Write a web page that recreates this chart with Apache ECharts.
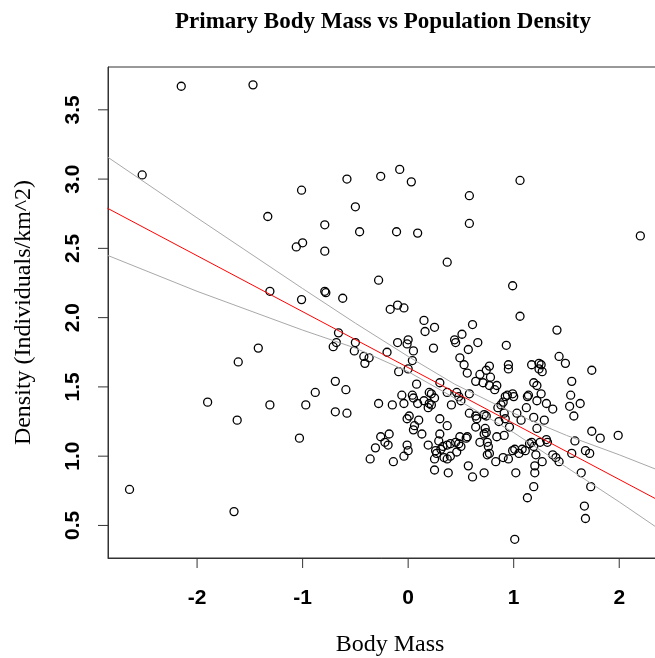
<!DOCTYPE html>
<html>
<head>
<meta charset="utf-8">
<script src="https://cdn.jsdelivr.net/npm/echarts@6/dist/echarts.min.js"></script>
<style>
  html, body { margin: 0; padding: 0; background: #fff; }
  #chart { width: 655px; height: 658px; }
</style>
</head>
<body>
<div id="chart"></div>
<script>
// tick positions
const xTicks = [-2, -1, 0, 1, 2];
const yTicks = [0.5, 1, 1.5, 2, 2.5, 3, 3.5];

// observations (body mass, density)
const bodyMass = [
  -2.15, -1.47, -2.52, -0.58, -1.01, -0.50, -0.26, -1.33, -0.79, -0.46,
  -1.00, -1.06, -0.79, -0.08, 0.03, 1.06, 0.58, 0.58, -0.11, 0.09,
  2.20, -0.28, -1.31, -0.79, -0.78, -1.01, -0.62, -0.66, -0.68, -0.71,
  -0.50, -0.51, -0.42, -0.37, -0.41, -1.42, -1.61, -0.69, -0.59, -0.88,
  -1.90, -1.31, -0.97, -0.69, -0.58, -0.28, -1.62, -1.03, -0.26, -0.31,
  -0.36, -2.64, -1.65, 0.37, 0.99, -0.17, -0.10, -0.04, 1.06, 0.15,
  0.16, 0.25, 0.61, 1.41, 0.51, 0.44, 0.45, 0.66, -0.10, -0.01,
  0.00, 0.05, 0.24, 0.57, 0.93, -0.20, 0.04, 0.49, 1.43, 1.49,
  1.74, 0.53, 0.56, 0.95, 0.95, 1.17, 1.24, 1.26, 1.24, 1.27,
  -0.09, 0.00, 0.77, 0.74, 0.68, 0.78, 0.64, 0.71, 0.77, 0.84,
  0.82, 0.08, 0.30, 0.37, 0.46, 0.58, 1.19, 1.22, 1.55, 1.26,
  1.54, -0.15, -0.06, -0.04, 0.04, 0.05, 0.09, 0.20, 0.22, 0.15,
  0.20, 0.19, 0.22, 0.25, 0.41, 0.48, 0.50, 0.92, 0.94, 0.99,
  1.00, 1.13, 1.14, 0.85, 0.88, 0.90, 1.03, 1.12, 1.22, 1.31,
  1.37, 1.53, 1.63, 1.57, 0.58, 0.64, 0.65, 0.72, 0.74, 0.01,
  -0.01, 0.10, 0.30, 1.19, 1.29, 1.07, 0.91, 0.92, 0.86, 0.96,
  1.22, 0.64, 0.73, 0.74, 0.72, 0.37, 0.06, 0.05, 0.13, 0.30,
  -0.18, -0.22, -0.19, -0.14, -0.04, -0.01, 0.00, 0.19, 0.29, 0.31,
  0.33, 0.37, 0.40, 0.26, 0.27, 0.45, 0.48, 0.49, 0.50, 0.55,
  0.56, 0.46, 0.34, 0.37, 0.40, 0.25, 0.25, 0.38, 0.57, 0.61,
  0.72, 0.68, 0.75, 0.76, 0.77, 0.75, 0.83, 0.84, 0.90, 0.95,
  0.99, 1.05, 1.08, 1.11, 1.15, 1.17, 1.19, 1.21, 1.20, 1.20,
  1.27, 1.25, 1.31, 1.32, 1.37, 1.40, 1.43, 1.02, 1.19, 1.13,
  1.55, 1.58, 1.68, 1.72, 1.74, 1.82, 1.99, 1.64, 1.73, 1.67,
  1.68, 1.01, 0.91, 1.01
];
const density = [
  3.67, 3.68, 3.03, 3.00, 2.92, 2.80, 3.02, 2.73, 2.67, 2.62,
  2.54, 2.51, 2.48, 3.07, 2.98, 2.99, 2.88, 2.68, 2.62, 2.61,
  2.59, 2.27, 2.19, 2.19, 2.18, 2.13, 2.14, 1.89, 1.82, 1.79,
  1.82, 1.76, 1.72, 1.71, 1.67, 1.78, 1.68, 1.54, 1.48, 1.46,
  1.39, 1.37, 1.37, 1.32, 1.31, 1.38, 1.26, 1.13, 1.14, 1.06,
  0.98, 0.76, 0.60, 2.40, 2.23, 2.06, 2.09, 2.07, 2.01, 1.98,
  1.90, 1.93, 1.95, 1.91, 1.88, 1.84, 1.82, 1.82, 1.82, 1.81,
  1.84, 1.76, 1.78, 1.77, 1.80, 1.75, 1.69, 1.71, 1.72, 1.67,
  1.62, 1.66, 1.60, 1.66, 1.63, 1.66, 1.67, 1.66, 1.63, 1.61,
  1.61, 1.63, 1.65, 1.62, 1.59, 1.57, 1.54, 1.53, 1.51, 1.51,
  1.48, 1.52, 1.53, 1.46, 1.46, 1.45, 1.53, 1.51, 1.54, 1.45,
  1.44, 1.37, 1.44, 1.38, 1.44, 1.42, 1.38, 1.46, 1.45, 1.40,
  1.38, 1.35, 1.37, 1.42, 1.37, 1.43, 1.40, 1.43, 1.44, 1.45,
  1.43, 1.43, 1.44, 1.35, 1.37, 1.39, 1.31, 1.35, 1.40, 1.38,
  1.34, 1.36, 1.38, 1.29, 1.31, 1.29, 1.27, 1.30, 1.29, 1.29,
  1.27, 1.26, 1.27, 1.28, 1.26, 1.26, 1.31, 1.27, 1.25, 1.21,
  1.20, 1.21, 1.20, 1.17, 1.16, 1.22, 1.22, 1.19, 1.16, 1.16,
  1.16, 1.10, 1.08, 0.96, 1.00, 1.08, 1.04, 1.08, 1.11, 1.05,
  1.07, 1.08, 1.09, 1.04, 1.02, 1.10, 1.09, 1.14, 1.07, 1.13,
  1.14, 1.03, 0.99, 0.98, 1.00, 0.98, 0.90, 0.88, 0.93, 0.85,
  0.88, 1.10, 1.10, 1.07, 1.02, 1.01, 0.96, 1.14, 0.99, 0.98,
  1.04, 1.02, 1.05, 1.04, 1.09, 1.10, 1.07, 1.01, 0.93, 0.88,
  0.96, 1.10, 1.12, 1.10, 1.01, 0.99, 0.96, 0.88, 0.78, 0.70,
  1.02, 1.11, 1.04, 1.02, 1.18, 1.13, 1.15, 0.88, 0.78, 0.64,
  0.55, 0.40, 1.15, 1.05
];

// fitted line (red) end points
const fitX = [-2.85, 2.5];
const fitY = [2.79, 0.63];

// confidence band (grey)
const bandX = [-2.85, -2, -1, -0.5, 0, 0.44, 1, 1.5, 2, 2.5];
const bandUpper = [3.16, 2.72, 2.21, 1.96, 1.72, 1.52, 1.31, 1.15, 1.01, 0.86];
const bandLower = [2.45, 2.19, 1.91, 1.78, 1.61, 1.42, 1.17, 0.92, 0.67, 0.41];

const X_MIN = -2.844, X_MAX = 2.5;
const Y_MIN = 0.265, Y_MAX = 3.809;
const TICK_LEN = 10;

const pairs = (xs, ys) => xs.map((x, i) => [x, ys[i]]);

const chart = echarts.init(document.getElementById('chart'));

const tickLabel = {
  fontFamily: 'Liberation Sans',
  fontWeight: 'bold',
  fontSize: 21,
  color: '#000'
};
const axisTitle = {
  fontFamily: 'Liberation Serif',
  fontSize: 24,
  color: '#000'
};
const frame = { color: '#333', width: 1 };

chart.setOption({
  animation: false,
  backgroundColor: '#fff',
  title: {
    text: 'Primary Body Mass vs Population Density',
    left: 378,
    top: 6,
    textAlign: 'center',
    textStyle: {
      fontFamily: 'Liberation Serif',
      fontWeight: 'bold',
      fontSize: 23,
      color: '#000'
    }
  },
  grid: {
    left: 108,
    top: 67,
    right: -17,
    bottom: 100,
    outerBoundsMode: 'none',
    show: true,
    borderColor: '#333',
    borderWidth: 1
  },
  xAxis: {
    type: 'value',
    min: X_MIN,
    max: X_MAX,
    name: 'Body Mass',
    nameLocation: 'middle',
    nameGap: 75,
    nameTextStyle: axisTitle,
    axisLine: { show: true, onZero: false, lineStyle: frame },
    splitLine: { show: false },
    axisTick: { show: false },
    axisLabel: Object.assign({ margin: 30, customValues: xTicks }, tickLabel)
  },
  yAxis: {
    type: 'value',
    min: Y_MIN,
    max: Y_MAX,
    name: 'Density (Individuals/km^2)',
    nameLocation: 'middle',
    nameGap: 72,
    nameTextStyle: axisTitle,
    axisLine: { show: true, onZero: false, lineStyle: frame },
    splitLine: { show: false },
    axisTick: { show: false },
    axisLabel: Object.assign({
      margin: 24,
      rotate: 90,
      customValues: yTicks,
      formatter: v => v.toFixed(1)
    }, tickLabel)
  },
  series: [
    {
      type: 'scatter',
      data: pairs(bodyMass, density),
      symbol: 'circle',
      symbolSize: 8,
      itemStyle: {
        color: 'rgba(0,0,0,0)',
        borderColor: '#000',
        borderWidth: 1.3,
        opacity: 1
      },
      silent: true
    },
    {
      type: 'line',
      data: pairs(bandX, bandUpper),
      showSymbol: false,
      lineStyle: { color: '#a8a8a8', width: 1 },
      silent: true
    },
    {
      type: 'line',
      data: pairs(bandX, bandLower),
      showSymbol: false,
      lineStyle: { color: '#a8a8a8', width: 1 },
      silent: true
    },
    {
      type: 'line',
      data: pairs(fitX, fitY),
      showSymbol: false,
      lineStyle: { color: '#ff0000', width: 1 },
      silent: true
    },
    // outward tick marks on the bottom axis
    {
      type: 'scatter',
      data: xTicks.map(v => [v, Y_MIN]),
      symbol: 'rect',
      symbolSize: [1, TICK_LEN],
      symbolOffset: [0, TICK_LEN / 2],
      itemStyle: { color: '#333', opacity: 1 },
      clip: false,
      silent: true
    },
    // outward tick marks on the left axis
    {
      type: 'scatter',
      data: yTicks.map(v => [X_MIN, v]),
      symbol: 'rect',
      symbolSize: [TICK_LEN, 1],
      symbolOffset: [-TICK_LEN / 2, 0],
      itemStyle: { color: '#333', opacity: 1 },
      clip: false,
      silent: true
    }
  ]
});
</script>
</body>
</html>
